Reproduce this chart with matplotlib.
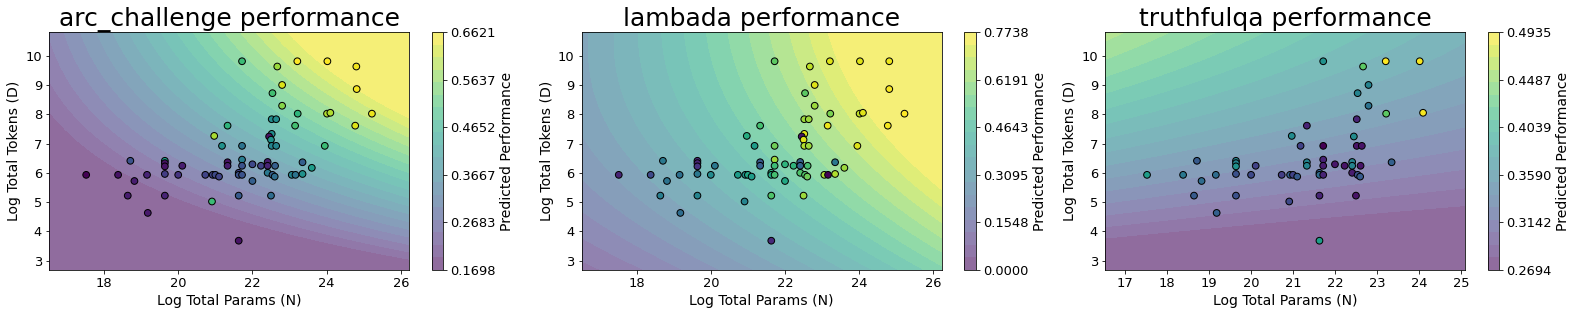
import matplotlib
matplotlib.use("Agg")
import matplotlib.pyplot as plt
import numpy as np
from matplotlib.colors import ListedColormap

# ---- observed models: log params / log tokens, shared across benchmarks ----
log_params = np.array([
    17.52, 18.38, 18.71, 18.82, 18.64, 19.16, 19.18, 19.64, 19.64, 19.64,
    19.64, 19.64, 20.00, 20.11, 20.73, 20.91, 20.97, 20.93, 21.00, 21.10,
    21.18, 21.33, 21.33, 21.33, 21.63, 21.63, 21.63, 21.63, 21.72, 21.72,
    21.72, 21.72, 21.72, 22.00, 22.00, 22.23, 22.41, 22.41, 22.41, 22.50,
    22.54, 22.60, 22.61, 22.54, 22.52, 22.64, 22.52, 22.45, 22.50, 22.52,
    22.64, 22.67, 22.80, 22.80, 23.06, 23.16, 23.15, 23.21, 23.22, 23.35,
    23.35, 23.60, 23.95, 24.02, 24.01, 24.10, 24.80, 24.81, 24.81, 24.77,
    25.22,
])
log_tokens = np.array([
    5.93, 5.93, 6.41, 5.72, 5.22, 5.93, 4.63, 6.41, 6.33, 6.22,
    5.96, 5.22, 5.93, 6.24, 5.93, 5.02, 7.26, 5.93, 5.93, 5.87,
    6.92, 7.61, 6.36, 6.24, 5.22, 3.68, 6.00, 5.93, 9.81, 6.92,
    6.45, 6.24, 5.93, 6.29, 5.72, 6.24, 6.37, 6.24, 6.00, 5.22,
    5.93, 5.87, 6.24, 8.72, 7.83, 7.83, 7.33, 7.24, 7.13, 6.92,
    6.92, 9.63, 9.00, 8.29, 5.93, 5.93, 7.61, 9.81, 8.02, 6.36,
    5.96, 6.17, 6.92, 9.81, 8.02, 8.05, 9.63, 9.81, 8.86, 7.61,
    8.02,
])

nan = np.nan
perf_arc = np.array([
    0.169785, 0.194, 0.293, 0.209, 0.209, 0.219, 0.204, 0.441, 0.194, 0.194,
    0.258, 0.219, 0.244, 0.209, 0.268, 0.505, 0.598, 0.268, 0.278, 0.268,
    0.416, 0.490, 0.194, 0.209, 0.308, 0.194, 0.268, 0.293, 0.505, 0.357,
    0.377, 0.293, 0.293, 0.278, 0.317, 0.268, 0.209, 0.219, 0.367, 0.342,
    0.317, 0.342, 0.317, 0.514, 0.406, 0.406, 0.406, 0.194, 0.416, 0.391,
    0.391, 0.588, 0.637, 0.573, 0.391, 0.357, 0.514, 0.662135, 0.490, 0.317,
    0.416, 0.441, 0.505, 0.660, 0.603, 0.603, 0.652, nan, 0.655, 0.637,
    0.647,
])
perf_lambada = np.array([
    0.077, 0.170, 0.310, 0.294, 0.325, 0.279, 0.271, 0.093, 0.077, 0.116,
    0.310, 0.348, 0.371, 0.310, 0.426, 0.348, 0.480, 0.387, 0.464, 0.426,
    0.426, 0.542, 0.217, 0.232, 0.557, 0.093, 0.503, 0.464, 0.580, 0.604,
    0.658, 0.526, 0.542, 0.503, 0.464, 0.503, 0.232, 0.248, 0.557, 0.658,
    0.557, 0.604, 0.542, 0.580, 0.658, 0.658, 0.735, 0.039, 0.735, 0.681,
    0.658, 0.696, 0.735, 0.658, 0.673, 0.0, 0.751, 0.735, 0.619, 0.310,
    0.681, 0.658, 0.735, 0.735, 0.696, 0.735, nan, 0.751, 0.765, 0.760,
    0.77384,
])
perf_truthfulqa = np.array([
    0.393, 0.359, 0.332, 0.348, 0.332, 0.348, 0.337, 0.370, 0.370, 0.382,
    0.325, 0.325, 0.319, 0.314, 0.310, 0.319, 0.377, 0.337, 0.314, 0.332,
    0.314, 0.292, 0.370, 0.370, 0.292, 0.393, 0.337, 0.348, 0.382, 0.2694,
    0.292, 0.287, 0.292, 0.283, nan, 0.281, 0.370, 0.370, 0.287, 0.281,
    0.325, 0.332, 0.281, 0.370, 0.292, nan, nan, 0.377, nan, 0.281,
    0.281, 0.437, 0.370, 0.355, nan, nan, nan, 0.4935, 0.437, 0.337,
    nan, nan, nan, 0.490, nan, 0.490, nan, nan, nan, nan,
    nan,
])

arc_level_k = [1, 1, 1, 1, 1, 1,
               4, 5, 6, 7, 8, 9, 10, 11, 12, 13, 14, 15, 16, 17, 18,
               18, 18, 0.5]
arc_level_x = [16.54, 18.09, 19.87, 21.66, 23.45, 26.2,
               16.87, 17.4, 17.94, 18.3, 18.75, 19.19, 19.64, 20.09, 20.45,
               20.8, 21.16, 21.52, 21.88, 22.24, 22.69,
               24.83, 26.2, 26.2]
arc_level_y = [7.69, 6.44, 5.19, 4.40, 3.83, 3.38] + [10.8] * 15 + [9.75, 7.46, 2.68]

lambada_level_k = [8, 9, 10, 11, 12, 13, 14, 15, 16, 17, 18,
                   7, 6, 5, 4, 3, 3, 18, 18, 12.3]
lambada_level_x = [17.2, 17.91, 18.63, 19.3, 19.97, 20.55, 21.09, 21.63, 22.16, 22.7, 23.19,
                   16.53, 16.53, 16.53, 16.53, 16.53, 17.75, 26.2, 24.1, 26.2]
lambada_level_y = [10.8] * 11 + [9.24, 7.88, 6.4, 4.92, 3.73, 2.68, 5.31, 7.8, 2.68]

tqa_level_k = [14, 14, 1, 1, 1, 6.5, 10, 8.5, 4.5]
tqa_level_x = [16.52, 17.69, 16.52, 21.0, 25.1, 16.52, 16.52, 25.1, 25.1]
tqa_level_y = [9.74, 10.8, 3.85, 4.3, 4.8, 6.0, 7.6, 10.8, 7.5]

N_LEVELS = 20
ALPHA = 0.6

# viridis laid over white at ALPHA, so the filled bands have no seams
_vir = plt.get_cmap("viridis")(np.linspace(0, 1, 256))
_vir[:, :3] = ALPHA * _vir[:, :3] + (1 - ALPHA)
faded_viridis = ListedColormap(_vir)


def fit_surface(ks, xs, ys, vmin, vmax):
    """Quadratic surface through the read-off level crossings."""
    step = (vmax - vmin) / (N_LEVELS - 1)
    vals = vmin + np.asarray(ks) * step
    xs = np.asarray(xs) - 21.0
    ys = np.asarray(ys) - 7.0
    A = np.column_stack([np.ones_like(xs), xs, ys, xs * ys, xs ** 2, ys ** 2])
    c, *_ = np.linalg.lstsq(A, vals, rcond=None)

    def f(X, Y):
        X = X - 21.0
        Y = Y - 7.0
        return c[0] + c[1] * X + c[2] * Y + c[3] * X * Y + c[4] * X ** 2 + c[5] * Y ** 2
    return f


panels = [
    ("arc_challenge", perf_arc, (arc_level_k, arc_level_x, arc_level_y)),
    ("lambada", perf_lambada, (lambada_level_k, lambada_level_x, lambada_level_y)),
    ("truthfulqa", perf_truthfulqa, (tqa_level_k, tqa_level_x, tqa_level_y)),
]

DPI = 72
fig = plt.figure(figsize=(1578 / DPI, 316 / DPI), dpi=DPI)
ax_left = [0.0311, 0.3686, 0.7003]
cb_left = [0.2736, 0.6112, 0.9428]
bottom, height = 0.1456, 0.7532

for i, (name, perf, anchors) in enumerate(panels):
    ax = fig.add_axes([ax_left[i], bottom, 0.2281, height])
    cax = fig.add_axes([cb_left[i], bottom, 0.0074, height])

    m = ~np.isnan(perf)
    x, y, p = log_params[m], log_tokens[m], perf[m]
    vmin, vmax = p.min(), p.max()

    surface = fit_surface(*anchors, vmin, vmax)
    xg = np.linspace(x.min() - 1, x.max() + 1, 300)
    yg = np.linspace(y.min() - 1, y.max() + 1, 300)
    X, Y = np.meshgrid(xg, yg)
    Z = np.clip(surface(X, Y), vmin, vmax)

    levels = np.linspace(vmin, vmax, N_LEVELS)
    cs = ax.contourf(X, Y, Z, levels=levels, cmap=faded_viridis)
    ax.scatter(x, y, c=p, cmap="viridis", vmin=vmin, vmax=vmax,
               edgecolors="black", s=45, linewidths=1.0, zorder=3)

    cb = fig.colorbar(cs, cax=cax, ticks=np.linspace(vmin, vmax, 6), format="%.4f")
    cb.set_label("Predicted Performance", fontsize=14)
    cb.ax.tick_params(labelsize=13)

    ax.set_title(f"{name} performance", fontsize=25)
    ax.set_xlabel("Log Total Params (N)", fontsize=14)
    ax.set_ylabel("Log Total Tokens (D)", fontsize=14)
    ax.tick_params(labelsize=13)
    ax.set_yticks(np.arange(3, 11))
    if name == "truthfulqa":
        ax.set_xticks(np.arange(17, 26))

fig.savefig("out.png", dpi=DPI)
